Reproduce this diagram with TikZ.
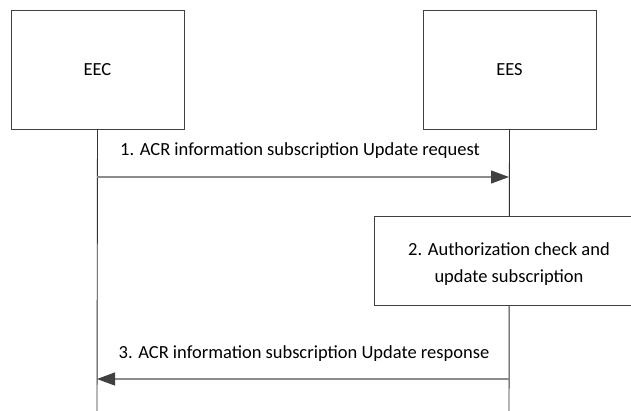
\documentclass[tikz,border=0pt]{standalone}
\usepackage{fontspec}
\setmainfont{Carlito}
\usetikzlibrary{arrows.meta}
\begin{document}
\begin{tikzpicture}[x=1pt,y=-1pt,
  txt/.style={font=\fontsize{18.5}{27}\selectfont},
  ent/.style={draw=black!75,line width=0.9pt,minimum width=173pt,minimum height=118.5pt,inner sep=0pt,txt},
  life/.style={draw=black!80,line width=0.9pt},
  msg/.style={draw=black!45,line width=1.1pt,-{Triangle[length=18pt,width=13pt,fill=black!75,color=black!75]}},
  lbl/.style={txt,inner sep=0pt,anchor=base},
  stepbox/.style={draw=black!75,line width=0.9pt,fill=white}]
\useasboundingbox (0,0) rectangle (631,410);
\node[ent] (eec) at (97.5,70) {EEC};
\node[ent] (ees) at (509.5,70) {EES};
\coordinate (eecb) at (97,412);
\coordinate (eesb) at (509,412);
\draw[life] (eec.south) -- (eecb);
\draw[life] (ees.south) -- (eesb);
\coordinate (a1) at (97,177);
\coordinate (b1) at (509,177);
\draw[msg] (a1) -- (b1);
\node[lbl] (l1) at (300,155) {1. ACR information subscription Update request};
\node[stepbox,minimum width=270pt,minimum height=89pt,anchor=north west] (s2box) at (374,216) {};
\node[lbl] (s2a) at (509,255) {2. Authorization check and};
\node[lbl] (s2b) at (509,282) {update subscription};
\coordinate (a3) at (509,379);
\coordinate (b3) at (97,379);
\draw[msg] (a3) -- (b3);
\node[lbl] (l3) at (304,358) {3. ACR information subscription Update response};
\end{tikzpicture}
\end{document}
